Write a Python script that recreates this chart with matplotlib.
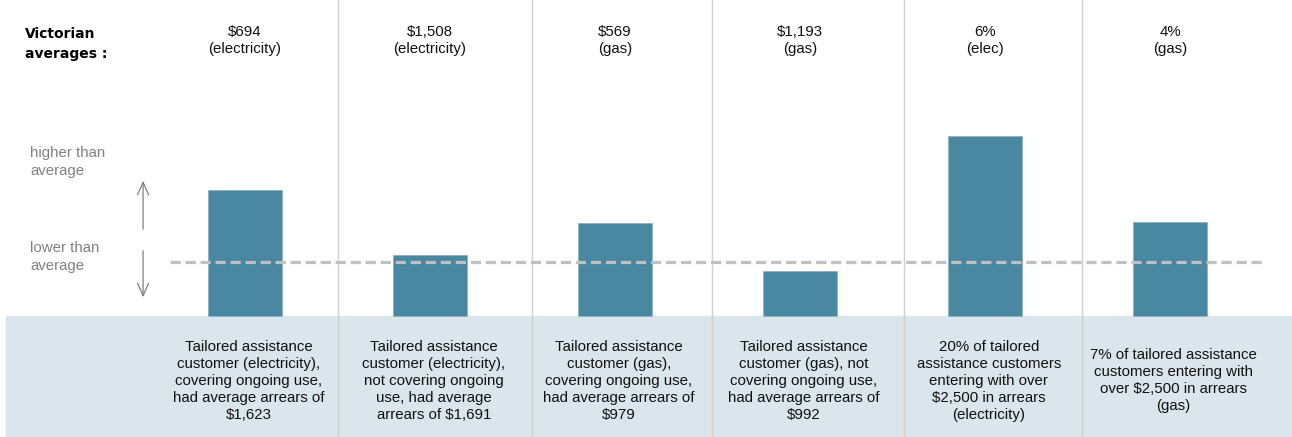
import numpy as np
import matplotlib.pyplot as plt

# Victorian averages (reference value) and tailored assistance value per column
avg_values = [694, 1508, 569, 1193, 6, 4]
ta_values = [1623, 1691, 979, 992, 20, 7]
avg_labels = ["$694\n(electricity)", "$1,508\n(electricity)", "$569\n(gas)",
              "$1,193\n(gas)", "6%\n(elec)", "4%\n(gas)"]
bar_labels = [
    "Tailored assistance\ncustomer (electricity),\ncovering ongoing use,\nhad average arrears of\n$1,623",
    "Tailored assistance\ncustomer (electricity),\nnot covering ongoing\nuse, had average\narrears of $1,691",
    "Tailored assistance\ncustomer (gas),\ncovering ongoing use,\nhad average arrears of\n$979",
    "Tailored assistance\ncustomer (gas), not\ncovering ongoing use,\nhad average arrears of\n$992",
    "20% of tailored\nassistance customers\nentering with over\n$2,500 in arrears\n(electricity)",
    "7% of tailored assistance\ncustomers entering with\nover $2,500 in arrears\n(gas)",
]

ratios = np.array(ta_values) / np.array(avg_values)
x = np.arange(len(ratios))

BAR_COLOR = "#4a87a1"
BAND_COLOR = "#dbe5ec"
TEXT_FONT = "Liberation Sans"

fig = plt.figure(figsize=(12.92, 4.37), dpi=100)
ax = fig.add_axes([0, 0, 1, 1])
ax.set_xlim(-245 / 185, (1292 - 245) / 185)
ax.set_ylim(-121 / 54, 316 / 54)
ax.axis("off")

# bottom band with descriptions
ax.axhspan(-121 / 54, 0, xmin=6 / 1292, xmax=1, color=BAND_COLOR, zorder=0)

# column separators
for sx in [0.505, 1.55, 2.525, 3.56, 4.525]:
    ax.axvline(sx, color="#d0d0d0", lw=1, zorder=1)

ax.bar(x, ratios, width=0.4, color=BAR_COLOR, edgecolor="#8fb3c4", linewidth=0.6, zorder=2)

# average line
ax.plot([-0.405, 5.503], [1, 1], color="#c0c0c0", lw=2.3, dashes=(3.2, 1.5), zorder=3)

for xi, lab in zip(x, avg_labels):
    ax.text(xi, 5.1, lab, ha="center", va="center", fontsize=10.8,
            family=TEXT_FONT, color="#111111", linespacing=1.25)

for xi, lab in zip(x, bar_labels):
    ax.text(xi + 0.02, -1.2, lab, ha="center", va="center", fontsize=10.8,
            family=TEXT_FONT, color="#111111", linespacing=1.27)

ax.text(-1.189, 5.36, "Victorian\naverages :", ha="left", va="top", fontsize=10,
        fontweight="bold", family="DejaVu Sans", color="#000000", linespacing=1.55)

ax.text(-1.162, 3.14, "higher than\naverage", ha="left", va="top", fontsize=10.8,
        family=TEXT_FONT, color="#808080", linespacing=1.3)
ax.text(-1.162, 1.38, "lower than\naverage", ha="left", va="top", fontsize=10.8,
        family=TEXT_FONT, color="#808080", linespacing=1.3)

arrow_style = dict(arrowstyle="->,head_length=0.9,head_width=0.4", color="#808080", lw=0.9)
ax.annotate("", xy=(-0.551, 2.556), xytext=(-0.551, 1.556), arrowprops=arrow_style)
ax.annotate("", xy=(-0.551, 0.296), xytext=(-0.551, 1.26), arrowprops=arrow_style)

fig.savefig("out.png", dpi=100)
